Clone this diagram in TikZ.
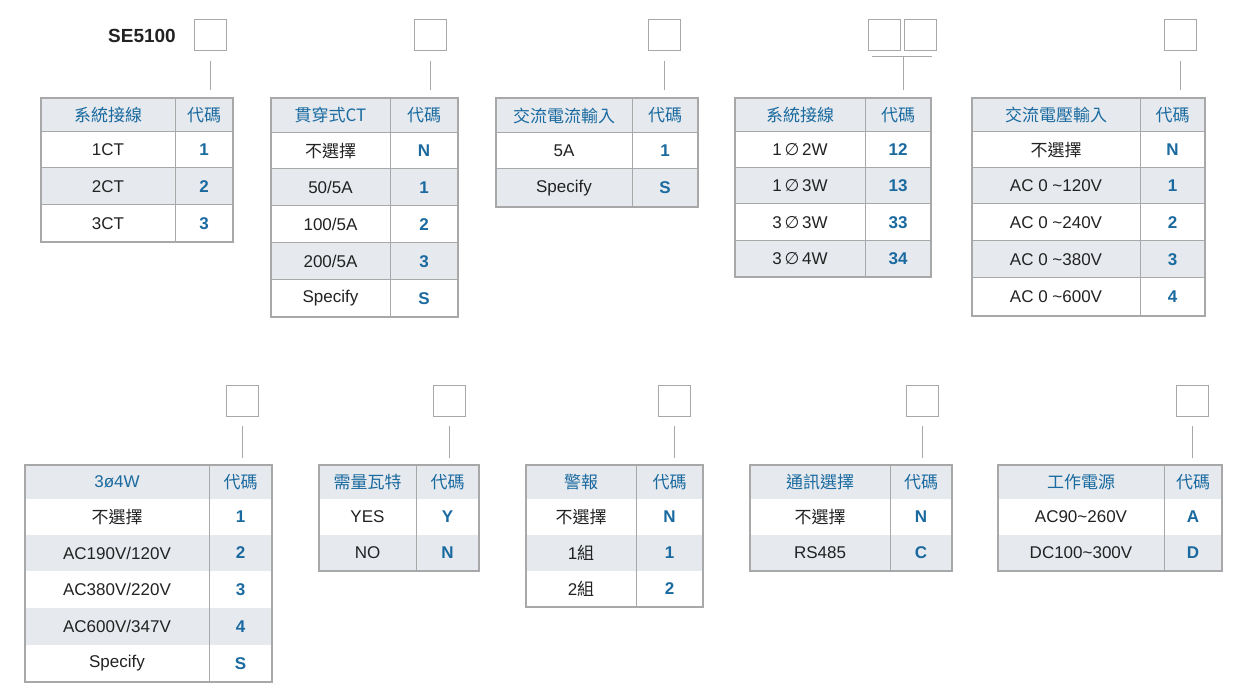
\documentclass[tikz,border=0pt]{standalone}
\usepackage{fontspec}
\setmainfont{Liberation Sans}
\newfontfamily\cjk{Noto Sans CJK TC}
\newfontfamily\dv{DejaVu Sans}
\definecolor{hd}{HTML}{E6EAEE}
\definecolor{ln}{HTML}{A8A8A8}
\definecolor{bl}{HTML}{1A6AA0}
\definecolor{tx}{HTML}{222222}
\tikzset{
  cell/.style={font=\fontsize{17}{17}\selectfont, text=tx},
  codecell/.style={font=\fontsize{17}{17}\selectfont\bfseries, text=bl},
  headcell/.style={font=\fontsize{17}{17}\selectfont\cjk, text=bl},
  selbox/.style={draw=ln, line width=1pt, minimum width=32pt, minimum height=31pt, inner sep=0pt},
  conn/.style={draw=ln, line width=1pt},
}
% \trow{name}{lx}{mx}{rx}{y0}{y1}{fill}{left}{right}
\newcommand\trow[9]{%
  \fill[#7] (#2,#5) rectangle (#4,#6);
  \draw[ln, line width=1pt] (#2,#6) -- (#4,#6);
  \node[cell] (#1l) at ({(#2+#3)/2},{(#5+#6)/2}) {#8};
  \node[codecell] (#1r) at ({(#3+#4)/2},{(#5+#6)/2}) {#9};
}
\newcommand\thead[6]{% name lx mx rx y0 y1 ; header text via next
  \fill[hd] (#2,#5) rectangle (#4,#6);
  \draw[ln, line width=1pt] (#2,#6) -- (#4,#6);
}
\newcommand\tframe[5]{% lx mx rx y0 y1
  \draw[ln, line width=1.6pt] (#1,#4) rectangle (#3,#5);
  \draw[ln, line width=1pt] (#2,#4) -- (#2,#5);
}
\newcommand\hl[6]{% name lx mx rx y0 y1 text-left given later
}
\begin{document}
\begin{tikzpicture}[x=1pt,y=-1pt]
\useasboundingbox (0,0) rectangle (1248,700);
\fill[white] (0,0) rectangle (1248,700);
\newcommand\hdr[7]{% name lx mx rx y0 y1 lefttext
  \fill[hd] (#2,#5) rectangle (#4,#6);
  \draw[ln, line width=1pt] (#2,#6) -- (#4,#6);
  \node[headcell] (#1l) at ({(#2+#3)/2},{(#5+#6)/2}) {#7};
  \node[headcell] (#1r) at ({(#3+#4)/2},{(#5+#6)/2}) {代碼};
}
% ---------- title
\node[font=\fontsize{19}{19}\selectfont\bfseries, text=tx] (title) at (142,36) {SE5100};
% ---------- T1
\hdr{a0}{41}{175}{233}{98}{132}{系統接線}
\trow{a1}{41}{175}{233}{132}{168}{white}{1CT}{1}
\trow{a2}{41}{175}{233}{168}{205}{hd}{2CT}{2}
\trow{a3}{41}{175}{233}{205}{242}{white}{3CT}{3}
\tframe{41}{175}{233}{98}{242}
\node[selbox] (b1) at (210,35) {};
\coordinate (c1) at (210,90);
\draw[conn] ([yshift=-10pt]b1.south) -- (c1);
% ---------- T2
\hdr{b0}{271}{390}{458}{98}{133}{貫穿式CT}
\trow{b1r}{271}{390}{458}{133}{169}{white}{\cjk 不選擇}{N}
\trow{b2}{271}{390}{458}{169}{206}{hd}{50/5A}{1}
\trow{b3}{271}{390}{458}{206}{243}{white}{100/5A}{2}
\trow{b4}{271}{390}{458}{243}{280}{hd}{200/5A}{3}
\trow{b5}{271}{390}{458}{280}{317}{white}{Specify}{S}
\tframe{271}{390}{458}{98}{317}
\node[selbox] (b2x) at (430,35) {};
\coordinate (c2) at (430,90);
\draw[conn] ([yshift=-10pt]b2x.south) -- (c2);
% ---------- T3
\hdr{c0}{496}{632}{698}{98}{133}{交流電流輸入}
\trow{c1r}{496}{632}{698}{133}{169}{white}{5A}{1}
\trow{c2r}{496}{632}{698}{169}{207}{hd}{Specify}{S}
\tframe{496}{632}{698}{98}{207}
\node[selbox] (b3) at (664,35) {};
\coordinate (c3) at (664,90);
\draw[conn] ([yshift=-10pt]b3.south) -- (c3);
% ---------- T4
\hdr{d0}{735}{865}{931}{98}{132}{系統接線}
\trow{d1}{735}{865}{931}{132}{168}{white}{1\,{\dv∅}\,2W}{12}
\trow{d2}{735}{865}{931}{168}{204}{hd}{1\,{\dv∅}\,3W}{13}
\trow{d3}{735}{865}{931}{204}{241}{white}{3\,{\dv∅}\,3W}{33}
\trow{d4}{735}{865}{931}{241}{277}{hd}{3\,{\dv∅}\,4W}{34}
\tframe{735}{865}{931}{98}{277}
\node[selbox] (b4a) at (884,35) {};
\node[selbox] (b4b) at (920,35) {};
\coordinate (h4a) at (872,57);
\coordinate (h4b) at (932,57);
\coordinate (h4m) at (903,57);
\coordinate (c4) at (903,90);
\draw[conn] (h4a) -- (h4b);
\draw[conn] (h4m) -- (c4);
% ---------- T5
\hdr{e0}{972}{1140}{1205}{98}{132}{交流電壓輸入}
\trow{e1}{972}{1140}{1205}{132}{168}{white}{\cjk 不選擇}{N}
\trow{e2}{972}{1140}{1205}{168}{204}{hd}{AC 0 \textasciitilde120V}{1}
\trow{e3}{972}{1140}{1205}{204}{241}{white}{AC 0 \textasciitilde240V}{2}
\trow{e4}{972}{1140}{1205}{241}{278}{hd}{AC 0 \textasciitilde380V}{3}
\trow{e5}{972}{1140}{1205}{278}{316}{white}{AC 0 \textasciitilde600V}{4}
\tframe{972}{1140}{1205}{98}{316}
\node[selbox] (b5) at (1180,35) {};
\coordinate (c5) at (1180,90);
\draw[conn] ([yshift=-10pt]b5.south) -- (c5);
% ---------- T6
\hdr{f0}{25}{209}{272}{465}{499}{\fontspec{Liberation Sans}3ø4W}
\trow{f1}{25}{209}{272}{499}{535}{white}{\cjk 不選擇}{1}
\trow{f2}{25}{209}{272}{535}{571}{hd}{AC190V/120V}{2}
\trow{f3}{25}{209}{272}{571}{608}{white}{AC380V/220V}{3}
\trow{f4}{25}{209}{272}{608}{645}{hd}{AC600V/347V}{4}
\trow{f5}{25}{209}{272}{645}{682}{white}{Specify}{S}
\tframe{25}{209}{272}{465}{682}
\node[selbox] (b6) at (242,401) {};
\coordinate (c6) at (242,458);
\draw[conn] ([yshift=-9pt]b6.south) -- (c6);
% ---------- T7
\hdr{g0}{319}{416}{479}{465}{499}{需量瓦特}
\trow{g1}{319}{416}{479}{499}{535}{white}{YES}{Y}
\trow{g2}{319}{416}{479}{535}{571}{hd}{NO}{N}
\tframe{319}{416}{479}{465}{571}
\node[selbox] (b7) at (449,401) {};
\coordinate (c7) at (449,458);
\draw[conn] ([yshift=-9pt]b7.south) -- (c7);
% ---------- T8
\hdr{h0}{526}{636}{703}{465}{499}{警報}
\trow{h1}{526}{636}{703}{499}{535}{white}{\cjk 不選擇}{N}
\trow{h2}{526}{636}{703}{535}{571}{hd}{1\cjk 組}{1}
\trow{h3}{526}{636}{703}{571}{607}{white}{2\cjk 組}{2}
\tframe{526}{636}{703}{465}{607}
\node[selbox] (b8) at (674,401) {};
\coordinate (c8) at (674,458);
\draw[conn] ([yshift=-9pt]b8.south) -- (c8);
% ---------- T9
\hdr{i0}{750}{890}{952}{465}{499}{通訊選擇}
\trow{i1}{750}{890}{952}{499}{535}{white}{\cjk 不選擇}{N}
\trow{i2}{750}{890}{952}{535}{571}{hd}{RS485}{C}
\tframe{750}{890}{952}{465}{571}
\node[selbox] (b9) at (922,401) {};
\coordinate (c9) at (922,458);
\draw[conn] ([yshift=-9pt]b9.south) -- (c9);
% ---------- T10
\hdr{j0}{998}{1164}{1222}{465}{499}{工作電源}
\trow{j1}{998}{1164}{1222}{499}{535}{white}{AC90\textasciitilde260V}{A}
\trow{j2}{998}{1164}{1222}{535}{571}{hd}{DC100\textasciitilde300V}{D}
\tframe{998}{1164}{1222}{465}{571}
\node[selbox] (b10) at (1192,401) {};
\coordinate (c10) at (1192,458);
\draw[conn] ([yshift=-9pt]b10.south) -- (c10);
\end{tikzpicture}
\end{document}
